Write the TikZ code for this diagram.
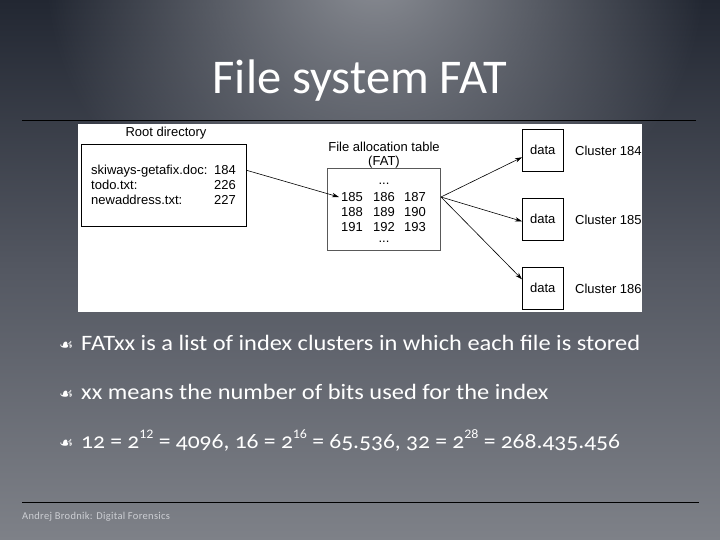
\documentclass[tikz,border=0pt]{standalone}
\usepackage{fontspec}
\setmainfont{Carlito}[Numbers=OldStyle]
\newfontfamily\bodyfont{Carlito}[Numbers=OldStyle, FakeStretch=1.11]
\newfontfamily\bodyfontn{Carlito}[Numbers=OldStyle, FakeStretch=1.07]
\newfontfamily\supfont{Carlito}[Numbers=Lining, FakeStretch=1.07]
\newfontfamily\footfont{Carlito}[LetterSpace=3]
\newfontfamily\diagfont{Liberation Sans}
\newfontfamily\symfont{DejaVu Sans}
\newcommand\supx[1]{\raisebox{0.42em}{\supfont\fontsize{13bp}{13bp}\selectfont #1}}
\usetikzlibrary{arrows.meta,fadings}
\definecolor{bgtop}{RGB}{34,39,50}
\definecolor{bgmid}{RGB}{84,88,98}
\definecolor{bgbot}{RGB}{126,129,136}
\definecolor{glowc}{RGB}{140,143,150}
\definecolor{foot}{RGB}{205,207,212}
\tikzfading[name=glowfade, inner color=transparent!0, outer color=transparent!100]
\begin{document}
\begin{tikzpicture}[x=1bp,y=-1bp,
  box/.style={draw=black, line width=0.6bp, fill=white, inner sep=0pt},
  dtext/.style={font=\diagfont\fontsize{13bp}{15bp}\selectfont, inner sep=0pt, text=black},
  arr/.style={-{Stealth[length=7bp,width=4.5bp]}, line width=0.6bp, draw=black},
  bullettext/.style={font=\bodyfont\fontsize{22bp}{25bp}\selectfont, text=white, inner sep=0pt, anchor=base west},
  bulletsym/.style={font=\symfont\fontsize{16bp}{18bp}\selectfont, text=white, inner sep=0pt, anchor=base west},
  rule/.style={draw=black, line width=0.9bp}]
\useasboundingbox (0,0) rectangle (720,540);
% background
\fill[top color=bgtop, bottom color=bgbot, middle color=bgmid] (0,0) rectangle (720,540);
\fill[glowc, path fading=glowfade] (375,-30) ellipse (330 and 300);
% title
\node[font=\fontsize{48.5bp}{54bp}\selectfont, text=white, inner sep=0pt, anchor=base] (title) at (360,94) {File system FAT};
\coordinate (tl1) at (22,120);
\coordinate (tl2) at (696,120);
\draw[rule] (tl1) -- (tl2);
% diagram area
\node[fill=white, minimum width=564bp, minimum height=188bp, inner sep=0pt, anchor=north west] (img) at (78,124) {};
\begin{scope}
\clip (78,124) rectangle (642,312);
\node[dtext] (rootlbl) at (166,133) {Root directory};
\node[box, minimum width=165bp, minimum height=82bp, anchor=north west] (root) at (81,144) {};
\node[dtext, anchor=base west] (f1) at (91,175) {skiways-getafix.doc:};
\node[dtext, anchor=base west] (f2) at (91,189.5) {todo.txt:};
\node[dtext, anchor=base west] (f3) at (91,204.5) {newaddress.txt:};
\node[dtext, anchor=base east] (c1) at (236,175) {184};
\node[dtext, anchor=base east] (c2) at (236,189.5) {226};
\node[dtext, anchor=base east] (c3) at (236,204.5) {227};
\node[dtext] (fatl1) at (384,147) {File allocation table};
\node[dtext] (fatl2) at (384,162) {(FAT)};
\node[box, minimum width=113bp, minimum height=82bp, anchor=north west, draw=black!65] (fat) at (327,168) {};
\node[dtext, anchor=base] (dt) at (384,185) {...};
\node[dtext] (n185) at (352,197) {185};
\node[dtext] (n186) at (384,197) {186};
\node[dtext] (n187) at (415,197) {187};
\node[dtext] (n188) at (352,212) {188};
\node[dtext] (n189) at (384,212) {189};
\node[dtext] (n190) at (415,212) {190};
\node[dtext] (n191) at (352,227) {191};
\node[dtext] (n192) at (384,227) {192};
\node[dtext] (n193) at (415,227) {193};
\node[dtext, anchor=base] (db) at (384,243) {...};
\node[box, minimum width=41bp, minimum height=42bp, anchor=north west] (d1) at (522,129) {};
\node[box, minimum width=41bp, minimum height=42bp, anchor=north west] (d2) at (522,198) {};
\node[box, minimum width=41bp, minimum height=42bp, anchor=north west] (d3) at (522,267) {};
\node[dtext] (d1t) at (d1) {data};
\node[dtext] (d2t) at (d2) {data};
\node[dtext] (d3t) at (d3) {data};
\node[dtext, anchor=west] (cl1) at (575,151) {Cluster 184};
\node[dtext, anchor=west] (cl2) at (575,220) {Cluster 185};
\node[dtext, anchor=west] (cl3) at (575,289) {Cluster 186};
\draw[arr] ([yshift=15bp]root.east) -- ([xshift=-2bp]n185.west);
\coordinate (fs) at (441,197);
\draw[arr] (fs) -- ([yshift=-7bp]d1.west);
\draw[arr] (fs) -- ([yshift=-2bp]d2.west);
\draw[arr] (fs) -- ([yshift=9bp]d3.west);
\end{scope}
% bullets
\node[bulletsym] (b1) at (59,350) {☙};
\node[bullettext] (t1) at (81,350) {FATxx is a list of index clusters in which each file is stored};
\node[bulletsym] (b2) at (59,399) {☙};
\node[bullettext] (t2) at (81,399) {xx means the number of bits used for the index};
\node[bulletsym] (b3) at (59,448) {☙};
\node[bullettext, font=\bodyfontn\fontsize{22bp}{25bp}\selectfont] (t3) at (81,448) {12 = 2\supx{12} = 4096, 16 = 2\supx{16} = 65.536, 32 = 2\supx{28} = 268.435.456};
% footer
\coordinate (fl1) at (22,502);
\coordinate (fl2) at (699,502);
\draw[rule] (fl1) -- (fl2);
\node[font=\footfont\fontsize{10.5bp}{12bp}\selectfont, text=foot, inner sep=0pt, anchor=base west] (footer) at (22,519) {Andrej Brodnik: Digital Forensics};
\end{tikzpicture}
\end{document}
